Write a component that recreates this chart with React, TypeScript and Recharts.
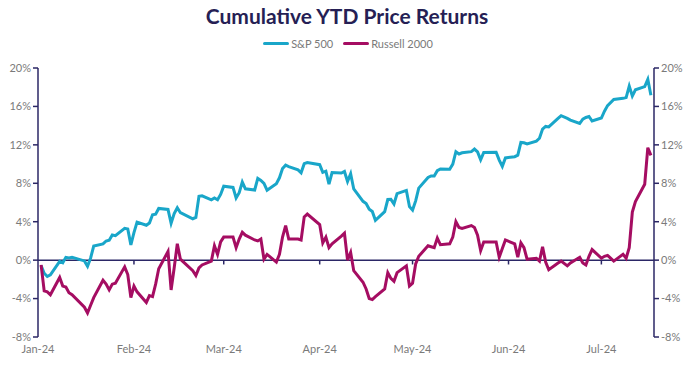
import { LineChart, Line, XAxis, YAxis, ReferenceLine } from 'recharts'

// trading days, 2024 (MM-DD)
const dates = [
  '01-02', '01-03', '01-04', '01-05', '01-08', '01-09', '01-10', '01-11', '01-12', '01-16', '01-17',
  '01-18', '01-19', '01-22', '01-23', '01-24', '01-25', '01-26', '01-29', '01-30', '01-31',
  '02-01', '02-02', '02-05', '02-06', '02-07', '02-08', '02-09', '02-12', '02-13', '02-14',
  '02-15', '02-16', '02-20', '02-21', '02-22', '02-23', '02-26', '02-27', '02-28', '02-29',
  '03-01', '03-04', '03-05', '03-06', '03-07', '03-08', '03-11', '03-12', '03-13', '03-14',
  '03-15', '03-18', '03-19', '03-20', '03-21', '03-22', '03-25', '03-26', '03-27', '03-28',
  '04-01', '04-02', '04-03', '04-04', '04-05', '04-08', '04-09', '04-10', '04-11', '04-12', '04-15',
  '04-16', '04-17', '04-18', '04-19', '04-22', '04-23', '04-24', '04-25', '04-26', '04-29', '04-30',
  '05-01', '05-02', '05-03', '05-06', '05-07', '05-08', '05-09', '05-10', '05-13', '05-14', '05-15',
  '05-16', '05-17', '05-20', '05-21', '05-22', '05-23', '05-24', '05-28', '05-29', '05-30', '05-31',
  '06-03', '06-04', '06-05', '06-06', '06-07', '06-10', '06-11', '06-12', '06-13', '06-14',
  '06-17', '06-18', '06-20', '06-21', '06-24', '06-25', '06-26', '06-27', '06-28',
  '07-01', '07-02', '07-03', '07-05', '07-08', '07-09', '07-10', '07-11', '07-12', '07-15', '07-16', '07-17',
]

const sp500 = [
  -0.57, -1.36, -1.7, -1.52, -0.13, -0.28, 0.29, 0.22, 0.29, -0.08, -0.64,
  0.23, 1.47, 1.69, 1.99, 2.07, 2.61, 2.54, 3.32, 3.25, 1.59,
  2.86, 3.96, 3.63, 3.87, 4.72, 4.78, 5.38, 5.28, 3.84, 4.84,
  5.45, 4.94, 4.31, 4.44, 6.65, 6.69, 6.28, 6.47, 6.29, 6.84,
  7.7, 7.57, 6.47, 7.02, 8.12, 7.42, 7.3, 8.5, 8.29, 7.98,
  7.28, 7.96, 8.57, 9.53, 9.89, 9.74, 9.4, 9.09, 10.04, 10.16,
  9.94, 9.14, 9.26, 7.91, 9.11, 9.07, 9.23, 8.19, 9.0, 7.41, 6.12,
  5.9, 5.29, 5.06, 4.14, 5.05, 6.31, 6.33, 5.84, 6.92, 7.26, 5.57,
  5.21, 6.17, 7.5, 8.61, 8.76, 8.76, 9.31, 9.49, 9.47, 10.0, 11.29,
  11.05, 11.18, 11.29, 11.56, 11.26, 10.44, 11.21, 11.24, 10.42, 9.76, 10.64,
  10.77, 10.93, 12.25, 12.22, 12.1, 12.39, 12.69, 13.65, 13.92, 13.87,
  14.75, 15.04, 14.75, 14.57, 14.22, 14.67, 14.85, 14.95, 14.48,
  14.79, 15.5, 16.09, 16.72, 16.84, 16.92, 18.12, 17.08, 17.73, 18.06, 18.81, 17.16,
]

const russell2000 = [
  -0.5, -3.2, -3.3, -3.6, -1.8, -2.7, -2.8, -3.4, -3.6, -4.9, -5.5,
  -4.7, -3.9, -2.1, -2.5, -3.1, -2.5, -2.4, -0.7, -1.5, -3.9,
  -2.7, -3.3, -4.4, -3.7, -3.8, -2.5, -0.9, 0.9, -3.1, -0.8,
  1.7, 0.1, -1.1, -1.6, -0.8, -0.5, -0.1, 1.5, 0.6, 1.9,
  2.4, 2.4, 1.3, 2.2, 2.9, 2.6, 2.1, 2.0, 2.2, 0.1,
  0.6, -0.2, 0.6, 2.4, 3.6, 2.2, 2.2, 2.1, 4.5, 4.8,
  3.7, 1.8, 2.4, 1.3, 1.7, 2.5, 2.8, 0.0, 0.8, -1.1, -2.3,
  -3.0, -4.0, -4.1, -3.8, -3.0, -1.3, -1.9, -2.2, -1.3, -0.6, -2.7,
  -2.4, -0.4, 0.4, 1.5, 1.4, 1.3, 2.3, 1.6, 1.7, 2.4, 4.0,
  3.4, 3.3, 3.6, 3.4, 2.6, 1.0, 1.9, 1.9, 0.3, 1.2, 2.1,
  1.7, 0.3, 1.8, 1.3, 0.1, 0.2, -0.1, 1.4, -0.2, -1.0,
  -0.3, -0.1, -0.6, -0.3, 0.3, -0.3, -0.5, 0.4, 1.1,
  0.2, 0.4, 0.5, -0.1, 0.6, 0.2, 1.3, 5.0, 6.1, 7.9, 11.7, 10.9,
]

const monthLabels = ['Jan-24', 'Feb-24', 'Mar-24', 'Apr-24', 'May-24', 'Jun-24', 'Jul-24']
const yTicks = [-8, -4, 0, 4, 8, 12, 16, 20]

const NAVY = '#2b2766'
const TEAL = '#19a6c9'
const MAGENTA = '#a50d62'
const GREY = '#7a7a7a'

const dayOfYear = (md: string) => {
  const [m, d] = md.split('-').map(Number)
  return (Date.UTC(2024, m - 1, d) - Date.UTC(2024, 0, 1)) / 86400000
}

const data = dates.map((md, i) => ({ day: dayOfYear(md), sp: sp500[i], rut: russell2000[i] }))
const monthTicks = monthLabels.map((_, i) => dayOfYear(`${i + 1}-01`))

const series = [
  { key: 'sp', name: 'S&P 500', color: TEAL },
  { key: 'rut', name: 'Russell 2000', color: MAGENTA },
]

const tickStyle = { fill: GREY, fontSize: 11 }

const LegendRow = () => (
  <div style={{ position: 'absolute', top: 37, left: 0, width: 696, display: 'flex', justifyContent: 'center', gap: 10, fontSize: 11, color: GREY }}>
    {series.map((s) => (
      <div key={s.key} style={{ display: 'flex', alignItems: 'center' }}>
        <span style={{ display: 'inline-block', width: 26, height: 3, borderRadius: 2, background: s.color, marginRight: 2 }} />
        {s.name}
      </div>
    ))}
  </div>
)

export default function App() {
  return (
    <div style={{ position: 'absolute', left: 0, top: 0, width: 700, height: 375, background: '#fff', fontFamily: 'Lato, sans-serif' }}>
      <div style={{ position: 'absolute', top: 3, left: 0, width: 694, textAlign: 'center', fontSize: 21, fontWeight: 700, color: '#261f55' }}>
        Cumulative YTD Price Returns
      </div>
      <LegendRow />
      <LineChart width={700} height={375} data={data} margin={{ top: 68, right: 0, left: 0, bottom: 8 }}>
        <XAxis
          type="number"
          dataKey="day"
          domain={[0, 199]}
          ticks={monthTicks}
          tickFormatter={(v: number) => monthLabels[monthTicks.indexOf(v)]}
          axisLine={false}
          tickLine={false}
          tick={tickStyle}
          height={30}
        />
        <YAxis
          yAxisId="left"
          domain={[-8, 20]}
          ticks={yTicks}
          tickFormatter={(v: number) => `${v}%`}
          width={38}
          tickSize={5}
          tick={tickStyle}
          axisLine={{ stroke: NAVY, strokeWidth: 1.5 }}
          tickLine={{ stroke: NAVY, strokeWidth: 1.5 }}
        />
        <YAxis
          yAxisId="right"
          orientation="right"
          domain={[-8, 20]}
          ticks={yTicks}
          tickFormatter={(v: number) => `${v}%`}
          width={46}
          tickSize={5}
          tick={tickStyle}
          axisLine={{ stroke: NAVY, strokeWidth: 1.5 }}
          tickLine={{ stroke: NAVY, strokeWidth: 1.5 }}
        />
        <ReferenceLine yAxisId="left" y={0} stroke={NAVY} strokeWidth={1.5} />
        {monthTicks.slice(1).map((d) => (
          <ReferenceLine
            key={d}
            yAxisId="left"
            segment={[{ x: d, y: 0 }, { x: d, y: -0.45 }]}
            stroke={NAVY}
            strokeWidth={1.5}
          />
        ))}
        {series.map((s, i) => (
          <Line
            key={s.key}
            yAxisId={i === 0 ? 'left' : 'right'}
            name={s.name}
            dataKey={s.key}
            stroke={s.color}
            strokeWidth={3}
            dot={false}
            isAnimationActive={false}
          />
        ))}
      </LineChart>
    </div>
  )
}
